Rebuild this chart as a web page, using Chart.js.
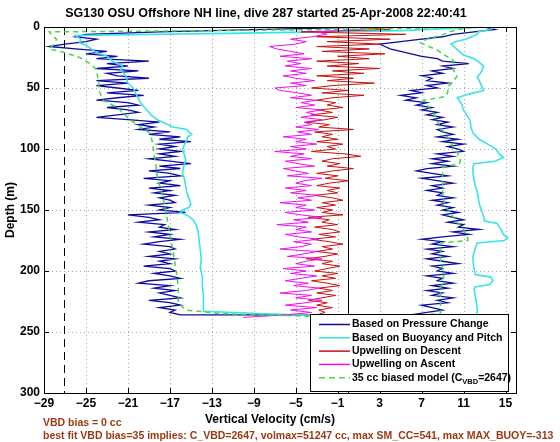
<!DOCTYPE html>
<html>
<head>
<meta charset="utf-8">
<script src="https://cdn.jsdelivr.net/npm/chart.js@4.4.1/dist/chart.umd.min.js"></script>
<style>
  html, body { margin: 0; padding: 0; background: #fff; }
  #wrap { width: 560px; height: 442px; position: relative; }
</style>
</head>
<body>
<div id="wrap"><canvas id="chart" width="560" height="442"></canvas></div>
<script>
// axis ticks
const xTicks = [-29, -25, -21, -17, -13, -9, -5, -1, 3, 7, 11, 15]
const yTicks = [0, 50, 100, 150, 200, 250, 300]

// sampled every 2 m, starting at the surface
const depthStep = 2

// pressure-change velocity, descent (cm/s)
const blueDown = [2, -8, -18, -25, -26, -24, -25, -27, -28.5, -26, -23, -25, -22, -24, -19, -23, -21, -24, -20, -23,
  -22, -19, -24, -21, -24, -22, -20, -23, -19.5, -22, -24, -21, -20, -23, -21, -20, -22, -24, -21, -18,
  -20, -18.5, -20, -17, -19, -16, -18, -15, -18, -16.5, -18, -16, -18, -16.5, -19, -17, -15, -18, -16, -19,
  -17, -16, -19.5, -17, -18, -16, -19, -17, -18.5, -16.5, -18, -17, -16.5, -19, -17, -18, -15.5, -21, -19, -18,
  -20, -17.5, -18, -16.5, -19, -17, -18.5, -16, -18, -19.5, -17, -16.5, -18, -17, -19, -16.5, -18, -17, -19.5, -17,
  -16.5, -18.5, -17, -16, -19, -20, -17, -18.5, -16.5, -18, -17, -16, -19, -17, -16, -18, -16.5, -17, -16]

// pressure-change velocity, ascent (cm/s), listed from the surface down
const blueUp = [13, 14, 12, 10, 9, 7, 5, 3, 3.5, 4, 5, 6, 7, 8.5, 9, 11.5, 9, 10, 8, 9,
  7, 8, 7.5, 9.5, 7.5, 8.5, 6, 7, 5, 6.5, 5.5, 7.5, 6.5, 8, 7, 8.5, 7.5, 9, 8, 9.5,
  8.5, 10, 8.5, 9, 10, 8.5, 10.5, 9, 11, 9.5, 10.5, 11, 8.5, 10, 8, 9.5, 8, 10, 7.5, 6.5,
  8, 9.5, 7, 8.5, 10, 8, 9, 7.5, 9, 8.5, 10, 8, 9.5, 8.5, 10, 9, 10.5, 9, 10, 11,
  9.5, 11, 10.5, 12.5, 10, 11.5, 9, 7, 9, 8, 10, 7.5, 9, 8, 9.5, 7.5, 9, 10.5, 8, 9,
  8.5, 10, 7.5, 9, 8.5, 10, 8, 9.5, 7.5, 9, 8, 10, 8.5, 9.5, 7, 8, 9, 7.5, 6]

// buoyancy and pitch model
const cyanDownDepth = [0, 3, 5, 7, 10, 13, 15, 18, 21, 24, 28, 32, 35, 40, 46, 50, 57, 62, 68, 72,
  76, 80, 82, 84, 86, 88, 90, 93, 96, 101, 105, 109, 115, 120, 125, 130, 135, 140, 145, 148,
  150, 152, 155, 158, 162, 168, 175, 183, 190, 197, 205, 212, 220, 228, 233, 235, 237]
const cyanDownVel = [13, 5, -10, -26, -25.5, -25.6, -25, -24.5, -24, -23, -22.5, -21.5, -21.7, -21.2, -21, -20.5, -20.1, -19.8, -19.2, -18.8,
  -18.2, -17.2, -16.7, -15.4, -15.2, -14.9, -15.3, -15.4, -15.6, -15.8, -15.6, -15.5, -15.7, -15.8, -15.6, -15.5, -15.4, -15.2, -15, -15.2,
  -15.8, -16, -15.2, -14.8, -14.5, -14.3, -14.2, -14.1, -14, -14.1, -13.9, -13.9, -13.8, -13.8, -13.8, -8, -1]
const cyanUpDepth = [236, 230, 225, 220, 215, 213, 211, 208, 205, 203, 198, 192, 188, 182, 177, 175, 173, 170, 165, 161,
  159, 155, 150, 145, 140, 135, 130, 125, 120, 115, 112, 110, 107, 104, 100, 96, 92, 87, 82, 76,
  72, 68, 63, 58, 55, 52, 48, 44, 41, 38, 35, 32, 29, 26, 23, 20, 17, 14, 12, 10, 8, 6, 4, 2, 0]
const cyanUpVel = [12.3, 12.3, 12.2, 12.1, 12, 12.1, 13.5, 13.8, 13.6, 12.1, 12, 11.9, 11.9, 12.1, 12.3, 14.9, 15.2, 14.8, 14.5, 14.2,
  13, 12.9, 12.7, 12.5, 12.4, 12.3, 12.1, 12, 11.9, 11.9, 12, 14, 14.8, 14.4, 14.1, 13.3, 12.5, 11.9, 11.7, 11.6,
  11.3, 11, 10.8, 10.4, 11.5, 12.9, 12.7, 12.5, 12.3, 12.6, 12.8, 12.9, 12.5, 12, 11, 10.6, 10.2, 9.8, 10.2, 11.2, 11.8, 12.3, 12.4, 13.5, 14]

// upwelling on descent, every 2 m
const redUp = [0, 4, -4.5, 5.5, -3, 4, -2, 3, -3, 2, -2.5, 3.5, -1, 2, -3, 1, -2, 3, -1.5, 1.5,
  -3, 0.5, -2, 2.5, -1.5, -3.5, 0, -2.5, 1.5, -1.5, -3, -1.2, -2, -0.5, -2.8, -1.5, -3.5, -1, -2.2, -4,
  -1.8, -2.8, 0.5, -3.2, -1.5, -2.5, -1, -3, -0.5, -2, -1.2, -3.5, -0.3, 1.2, -1.5, -2.5, -0.8, -2, 0.5, -1.5,
  -3, -1, -2.2, 0, -1.8, -3, -0.8, -2, -1, -3.2, -1.5, -0.5, -2.5, -1.2, -3, -1.5, -2.5, -0.5, -3.8, -1.8,
  -2.5, -1, -3.2, -1.5, -0.8, -2.8, -1.2, -3.5, -1.8, -0.5, -2.5, -1.5, -3, -1, -2.2, -4, -1.5, -2.5, -0.8, -2,
  -3.2, -1, -2.5, -1.2, -3.5, -2, -0.8, -2.8, -1.5, -3, -1.2, -2.5, -3.8, -2, -3, -1.5, -2.8, -2.2, -3]

// upwelling on ascent, every 2 m
const magentaUp = [2, 1, -3, -2, -3.5, -5.5, -4, -5, -7.5, -6.8, -5.5, -4.2, -6.5, -3.5, -5.8, -4.5, -6, -3.5, -5.5, -4,
  -6.2, -5, -3.2, -5.5, -4, -7, -6.5, -4.8, -3.5, -5.5, -3, -4.5, -3.2, -5, -2.5, -4, -3, -4.5, -2.5, -4.2,
  -3.5, -5, -2.8, -4.8, -3.5, -6.2, -4, -5, -3, -5.5, -4, -7, -4.2, -5.5, -3.5, -6, -4.8, -3.2, -6.2, -5,
  -3.8, -5.8, -2.5, -4.2, -5, -3.5, -6, -4, -5.5, -2.8, -4.8, -3.5, -6.5, -4, -5, -3.2, -6, -4.5, -2.5, -5.2,
  -3.8, -6.8, -4, -5, -3.5, -6, -4.8, -2.8, -5.2, -3.5, -4.5, -6.5, -3, -4.2, -5.8, -2.5, -4, -5, -3.2, -6.2,
  -4, -5.5, -3, -4.5, -6, -3.8, -5.2, -2.8, -4, -6.5, -3.5, -5, -2.5, -4, -6, -3, -5.5, -3.5, -6, -10]

// 35 cc biased model
const greenDownDepth = [0, 2, 4, 7, 10, 14, 18, 21, 25, 30, 35, 40, 45, 53, 60, 66, 71, 76, 82, 87,
  93, 99, 105, 115, 123, 132, 142, 150, 160, 170, 183, 195, 205, 215, 226, 232, 235, 237]
const greenDownVel = [12, 0, -28.5, -28.2, -27.8, -28, -28.5, -27, -25.6, -24.6, -24, -23.9, -23.8, -23.7, -23.4, -22, -21.4, -20.8, -19.8, -18.9,
  -18.7, -18.6, -18.5, -18.3, -18.2, -17.9, -17.6, -17.4, -17.2, -17, -16.7, -16.5, -16.3, -16.2, -16.2, -15.5, -12, -4]
const greenUpDepth = [237, 235, 229, 222, 215, 210, 205, 198, 191, 184, 177, 175, 173, 170, 166, 160, 152, 147, 142, 135,
  128, 120, 115, 112, 109, 103, 98, 93, 87, 82, 76, 70, 65, 60, 57, 53, 49, 45, 40, 35,
  31, 27, 23, 19, 16, 13, 10, 7, 4, 2, 0]
const greenUpVel = [4, 8.8, 8.8, 8.8, 8.8, 9, 9.1, 9, 8.8, 8.8, 8.8, 11.4, 11.4, 11.2, 11, 10.4, 9.7, 9.3, 9.1, 9,
  9, 9, 9, 10.6, 10.7, 10.4, 10, 9.7, 9.2, 8.8, 8.4, 8.1, 7.6, 7.2, 9.3, 9.5, 9.5, 10, 10.4, 10,
  10, 10, 9.2, 8.5, 7.7, 6.9, 7.5, 8.8, 9.7, 10.5, 12]

const vbdMarker = -27.1

const FONT = '"Liberation Sans", Arial, Helvetica, sans-serif'
const BROWN = '#9a3a12'
const BLUE = '#0c0ca0'
const CYAN = '#38e4e8'
const RED = '#c81010'
const MAGENTA = '#f010f0'
const GREEN = '#40d840'

function gridPoints(vals) {
    return vals.map((v, i) => ({ x: v, y: i * depthStep }))
}

function pairPoints(depths, vels) {
    return depths.map((d, i) => ({ x: vels[i], y: d }))
}

const bluePoints = gridPoints(blueDown).concat(gridPoints(blueUp).reverse())
const cyanPoints = pairPoints(cyanDownDepth, cyanDownVel).concat(pairPoints(cyanUpDepth, cyanUpVel))
const greenPoints = pairPoints(greenDownDepth, greenDownVel).concat(pairPoints(greenUpDepth, greenUpVel))

function line(ctx, x1, y1, x2, y2) {
    ctx.beginPath()
    ctx.moveTo(x1, y1)
    ctx.lineTo(x2, y2)
    ctx.stroke()
}

const legendItems = [
    { text: 'Based on Pressure Change', color: BLUE, dash: [] },
    { text: 'Based on Buoyancy and Pitch', color: CYAN, dash: [] },
    { text: 'Upwelling on Descent', color: RED, dash: [] },
    { text: 'Upwelling on Ascent', color: MAGENTA, dash: [] },
    { text: '35 cc biased model (C', sub: 'VBD', after: '=2647)', color: GREEN, dash: [6, 4] }
]

const decor = {
    id: 'decor',
    beforeDatasetsDraw(chart) {
        const { ctx, chartArea: a, scales: { x, y } } = chart
        ctx.save()
        ctx.strokeStyle = '#a8a8a8'
        ctx.lineWidth = 1
        ctx.setLineDash([1, 3])
        xTicks.forEach((v) => {
            const px = Math.round(x.getPixelForValue(v)) + 0.5
            if (px > a.left + 1 && px < a.right - 1) line(ctx, px, a.top, px, a.bottom)
        })
        yTicks.forEach((v) => {
            const py = Math.round(y.getPixelForValue(v)) + 0.5
            if (py > a.top + 1 && py < a.bottom - 1) line(ctx, a.left, py, a.right, py)
        })
        // vbd reference
        ctx.strokeStyle = '#000'
        ctx.setLineDash([8, 5])
        const vx = Math.round(x.getPixelForValue(vbdMarker)) + 0.5
        line(ctx, vx, a.top, vx, a.bottom)
        ctx.restore()
    },
    afterDatasetsDraw(chart) {
        const { ctx, chartArea: a, scales: { x, y } } = chart
        ctx.save()
        ctx.strokeStyle = '#000'
        ctx.lineWidth = 1
        const zx = Math.round(x.getPixelForValue(0)) + 0.5
        line(ctx, zx, a.top, zx, a.bottom)

        // inward ticks on all sides
        xTicks.forEach((v) => {
            const px = Math.round(x.getPixelForValue(v)) + 0.5
            line(ctx, px, a.bottom, px, a.bottom - 5)
            line(ctx, px, a.top, px, a.top + 5)
        })
        yTicks.forEach((v) => {
            const py = Math.round(y.getPixelForValue(v)) + 0.5
            line(ctx, a.left, py, a.left + 5, py)
            line(ctx, a.right, py, a.right - 5, py)
        })
        ctx.strokeRect(Math.round(a.left) + 0.5, Math.round(a.top) + 0.5, Math.round(a.right - a.left), Math.round(a.bottom - a.top))

        // legend box
        const lx = 310, ly = 314, lw = 198, lh = 77
        ctx.fillStyle = '#fff'
        ctx.fillRect(lx, ly, lw, lh)
        ctx.strokeRect(lx + 0.5, ly + 0.5, lw, lh)
        ctx.textBaseline = 'middle'
        ctx.textAlign = 'left'
        const lf = 'bold 10.5px ' + FONT
        legendItems.forEach((item, i) => {
            const ry = ly + 10.5 + i * 13.3
            ctx.strokeStyle = item.color
            ctx.lineWidth = 1.5
            ctx.setLineDash(item.dash)
            line(ctx, lx + 9, ry, lx + 40, ry)
            ctx.setLineDash([])
            ctx.fillStyle = '#000'
            ctx.font = lf
            ctx.fillText(item.text, lx + 42, ry)
            if (item.sub) {
                let tx = lx + 42 + ctx.measureText(item.text).width
                ctx.font = 'bold 7.5px ' + FONT
                ctx.fillText(item.sub, tx, ry + 4)
                tx += ctx.measureText(item.sub).width
                ctx.font = lf
                ctx.fillText(item.after, tx, ry)
            }
        })

        // titles and notes
        ctx.fillStyle = '#000'
        ctx.textAlign = 'center'
        ctx.font = 'bold 12.5px ' + FONT
        ctx.fillText('SG130 OSU Offshore NH line, dive 287 started 25-Apr-2008 22:40:41', 266, 14)
        ctx.font = 'bold 12px ' + FONT
        ctx.fillText('Vertical Velocity (cm/s)', 270, 420)
        ctx.save()
        ctx.translate(11, 210)
        ctx.rotate(-Math.PI / 2)
        ctx.fillText('Depth (m)', 0, 0)
        ctx.restore()

        ctx.fillStyle = BROWN
        ctx.textAlign = 'left'
        ctx.font = 'bold 10.5px ' + FONT
        ctx.fillText('VBD bias = 0 cc', 43, 423)
        ctx.fillText('best fit VBD bias=35 implies: C_VBD=2647, volmax=51247 cc, max SM_CC=541, max MAX_BUOY=-313', 43, 436)
        ctx.restore()
    }
}

new Chart(document.getElementById('chart'), {
    type: 'scatter',
    data: {
        datasets: [
            { label: 'Based on Pressure Change', data: bluePoints, borderColor: BLUE, borderWidth: 1.3, order: 5 },
            { label: 'Based on Buoyancy and Pitch', data: cyanPoints, borderColor: CYAN, borderWidth: 1.6, order: 4 },
            { label: 'Upwelling on Descent', data: gridPoints(redUp), borderColor: RED, borderWidth: 1, order: 3 },
            { label: 'Upwelling on Ascent', data: gridPoints(magentaUp), borderColor: MAGENTA, borderWidth: 1, order: 2 },
            { label: '35 cc biased model', data: greenPoints, borderColor: GREEN, borderWidth: 1.5, borderDash: [5, 4], order: 1 }
        ].map((d) => Object.assign(d, { showLine: true, pointRadius: 0, fill: false, tension: 0 }))
    },
    options: {
        responsive: false,
        animation: false,
        events: [],
        layout: { padding: { top: 27, right: 44, left: 0, bottom: 0 } },
        plugins: { legend: { display: false }, tooltip: { enabled: false }, title: { display: false } },
        scales: {
            x: {
                type: 'linear', min: -29, max: 16,
                grid: { display: false, drawTicks: false },
                border: { display: false },
                afterBuildTicks: (s) => { s.ticks = xTicks.map((v) => ({ value: v })) },
                afterFit: (s) => { s.height = 49 },
                ticks: {
                    padding: 3, color: '#000', font: { family: FONT, size: 12, weight: 'bold' },
                    maxRotation: 0, autoSkip: false,
                    callback: (v) => (v < 0 ? '\u2212' + Math.abs(v) : String(v))
                }
            },
            y: {
                type: 'linear', min: 0, max: 300, reverse: true,
                grid: { display: false, drawTicks: false },
                border: { display: false },
                afterBuildTicks: (s) => { s.ticks = yTicks.map((v) => ({ value: v })) },
                afterFit: (s) => { s.width = 44 },
                ticks: { padding: 4, color: '#000', font: { family: FONT, size: 12, weight: 'bold' }, autoSkip: false }
            }
        }
    },
    plugins: [decor]
})
</script>
</body>
</html>
